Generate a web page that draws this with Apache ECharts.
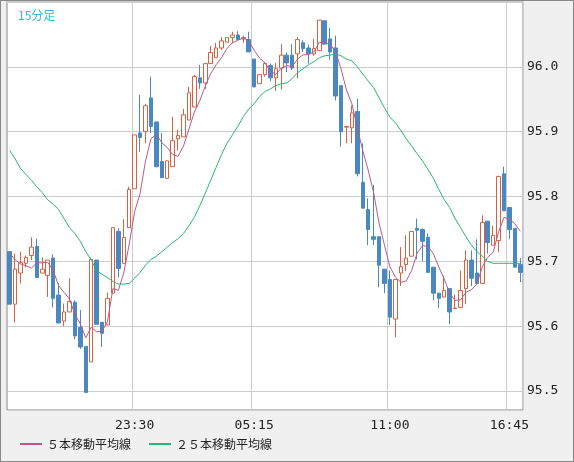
<!DOCTYPE html>
<html>
<head>
<meta charset="utf-8">
<script src="https://cdn.jsdelivr.net/npm/echarts@6/dist/echarts.min.js"></script>
<style>
  html, body { margin: 0; padding: 0; background: #f0f0f0; }
  #chart { width: 572px; height: 460px; border: 1px solid #888; }
</style>
</head>
<body>
<div id="chart"></div>
<script>
// 15分足 ローソク足: [open, close, low, high]
const opens = [95.715,95.634,95.682,95.697,95.709,95.723,95.682,95.678,95.705,95.648,
  95.608,95.622,95.637,95.598,95.569,95.545,95.702,95.606,95.602,95.651,
  95.746,95.697,95.752,95.812,95.898,95.900,95.952,95.915,95.854,95.828,
  95.846,95.889,95.892,95.918,95.938,95.983,95.975,96.005,96.014,96.029,
  96.038,96.045,96.049,96.043,96.042,96.012,95.974,95.988,96.002,95.983,
  95.998,96.018,96.018,96.020,96.037,96.029,96.020,96.025,96.071,96.043,
  96.029,95.971,95.907,95.906,95.931,95.822,95.780,95.738,95.738,95.688,
  95.672,95.611,95.682,95.695,95.708,95.751,95.749,95.737,95.691,95.651,
  95.645,95.658,95.627,95.629,95.658,95.702,95.682,95.666,95.762,95.725,
  95.732,95.835,95.783,95.751,95.695];
const closes = [95.634,95.688,95.698,95.706,95.722,95.675,95.688,95.702,95.643,95.605,
  95.622,95.638,95.585,95.568,95.498,95.703,95.603,95.589,95.643,95.752,
  95.689,95.737,95.811,95.895,95.891,95.940,95.908,95.846,95.829,95.855,
  95.886,95.894,95.926,95.960,95.985,95.975,96.005,96.022,96.029,96.040,
  96.045,96.049,96.042,96.045,96.023,95.969,95.988,96.005,95.983,95.997,
  96.018,96.006,95.998,96.042,96.028,96.020,96.028,96.072,96.035,96.023,
  95.955,95.900,95.908,95.929,95.835,95.782,95.749,95.734,95.694,95.666,
  95.614,95.672,95.692,95.705,95.746,95.748,95.731,95.683,95.651,95.643,
  95.655,95.622,95.628,95.655,95.702,95.674,95.666,95.760,95.729,95.740,
  95.831,95.778,95.749,95.691,95.683];
const lows = [95.634,95.606,95.666,95.691,95.702,95.675,95.682,95.645,95.629,95.605,
  95.600,95.622,95.580,95.565,95.498,95.545,95.603,95.568,95.602,95.651,
  95.675,95.697,95.752,95.812,95.869,95.882,95.898,95.845,95.829,95.828,
  95.846,95.871,95.892,95.918,95.938,95.966,95.966,96.005,96.014,96.026,
  96.038,96.037,96.042,96.037,96.023,95.969,95.974,95.985,95.978,95.963,
  95.965,95.992,95.995,95.982,96.023,96.005,96.017,96.025,96.035,96.011,
  95.948,95.877,95.882,95.882,95.831,95.782,95.725,95.725,95.660,95.651,
  95.602,95.583,95.662,95.685,95.708,95.703,95.700,95.683,95.640,95.628,
  95.645,95.603,95.627,95.629,95.634,95.662,95.666,95.666,95.712,95.725,
  95.714,95.778,95.734,95.691,95.668];
const highs = [95.715,95.712,95.715,95.709,95.737,95.735,95.706,95.702,95.711,95.666,
  95.635,95.674,95.640,95.625,95.569,95.706,95.702,95.606,95.652,95.752,
  95.751,95.765,95.815,95.895,95.957,95.943,95.985,95.915,95.898,95.855,
  95.923,95.903,95.935,95.969,95.988,96.003,96.005,96.032,96.037,96.046,
  96.045,96.054,96.055,96.048,96.054,96.012,95.988,96.006,96.005,96.006,
  96.035,96.022,96.035,96.046,96.041,96.034,96.043,96.072,96.071,96.060,
  96.048,95.971,95.909,95.940,95.951,95.882,95.797,95.818,95.738,95.688,
  95.686,95.672,95.722,95.740,95.746,95.766,95.751,95.743,95.691,95.651,
  95.678,95.658,95.649,95.686,95.717,95.717,95.734,95.771,95.762,95.755,
  95.832,95.846,95.783,95.751,95.705];
// 画面外の直前の終値 (5本線の計算用)
const priorCloses = [95.74, 95.73, 95.72, 95.74];
// 25本移動平均線 (画面から読み取り)
const ma25 = [95.871,95.858,95.843,95.834,95.825,95.815,95.806,95.795,95.788,95.780,
  95.766,95.752,95.743,95.731,95.715,95.702,95.686,95.680,95.675,95.669,
  95.665,95.665,95.666,95.674,95.683,95.694,95.703,95.708,95.715,95.722,
  95.729,95.735,95.743,95.755,95.768,95.786,95.805,95.825,95.845,95.865,
  95.882,95.895,95.908,95.923,95.935,95.943,95.954,95.962,95.966,95.971,
  95.974,95.975,95.982,95.991,95.997,96.003,96.008,96.014,96.017,96.018,
  96.020,96.017,96.012,96.009,96.000,95.989,95.978,95.968,95.952,95.937,
  95.922,95.914,95.902,95.889,95.878,95.866,95.855,95.842,95.828,95.811,
  95.795,95.783,95.766,95.752,95.738,95.725,95.715,95.708,95.700,95.697,
  95.697,95.697,95.697,95.697,95.697];
const timeLabels = { 23: '23:30', 45: '05:15', 70: '11:00', 92: '16:45' };

const cats = opens.map((_, i) => String(i));
const candles = opens.map((o, i) => [o, closes[i], lows[i], highs[i]]);
const all = priorCloses.concat(closes);
const ma5 = closes.map((_, i) => {
  let s = 0;
  for (let k = 0; k < 5; k++) s += all[i + 4 - k];
  return +(s / 5).toFixed(4);
});
const showAt = (i) => timeLabels[i] !== undefined;
const onTenth = (v) => Math.abs(v * 10 - Math.round(v * 10)) < 1e-4 && v > 95.48 && v < 96.05;

const option = {
  animation: false,
  backgroundColor: '#f0f0f0',
  textStyle: { fontFamily: 'DejaVu Sans Mono' },
  title: {
    text: '15分足', left: 12, top: 3,
    textStyle: { color: '#3bb3e0', fontSize: 12, fontWeight: 'normal', fontFamily: 'Noto Sans CJK JP' }
  },
  legend: {
    bottom: 6, left: 14, itemWidth: 22, itemHeight: 2, itemGap: 18,
    icon: 'rect',
    textStyle: { fontSize: 12, color: '#222', fontFamily: 'Noto Sans CJK JP' },
    data: ['５本移動平均線', '２５本移動平均線']
  },
  grid: { left: 6, right: 50, top: 0, bottom: 51, show: true, backgroundColor: '#fff', borderColor: '#888' },
  xAxis: {
    type: 'category', data: cats, boundaryGap: true,
    axisLine: { show: false }, axisTick: { show: false },
    axisLabel: { interval: (i) => showAt(i), formatter: (v) => timeLabels[v] || '', color: '#222', fontSize: 13, margin: 9 },
    splitLine: { show: true, interval: (i) => showAt(i), lineStyle: { color: '#ccc' } }
  },
  yAxis: {
    type: 'value', position: 'right', min: 95.4708, max: 96.1015, splitNumber: 6,
    axisLine: { show: false }, axisTick: { show: false },
    axisLabel: {
      color: '#222', fontSize: 13, margin: 4, showMinLabel: false, showMaxLabel: false,
      formatter: (v) => onTenth(v) ? v.toFixed(1) : ''
    },
    splitLine: { lineStyle: { color: '#ccc' } }
  },
  series: [
    {
      type: 'candlestick', data: candles, barWidth: 4,
      itemStyle: { color: '#fff', color0: '#4a88c2', borderColor: '#d9613f', borderColor0: '#4a88c2', borderWidth: 1 }
    },
    {
      name: '５本移動平均線', type: 'line', data: ma5, symbol: 'none',
      lineStyle: { color: '#b95a8a', width: 1 }, itemStyle: { color: '#b95a8a' }
    },
    {
      name: '２５本移動平均線', type: 'line', data: ma25, symbol: 'none',
      lineStyle: { color: '#2bb673', width: 1 }, itemStyle: { color: '#2bb673' }
    }
  ]
};

echarts.init(document.getElementById('chart')).setOption(option);
</script>
</body>
</html>
